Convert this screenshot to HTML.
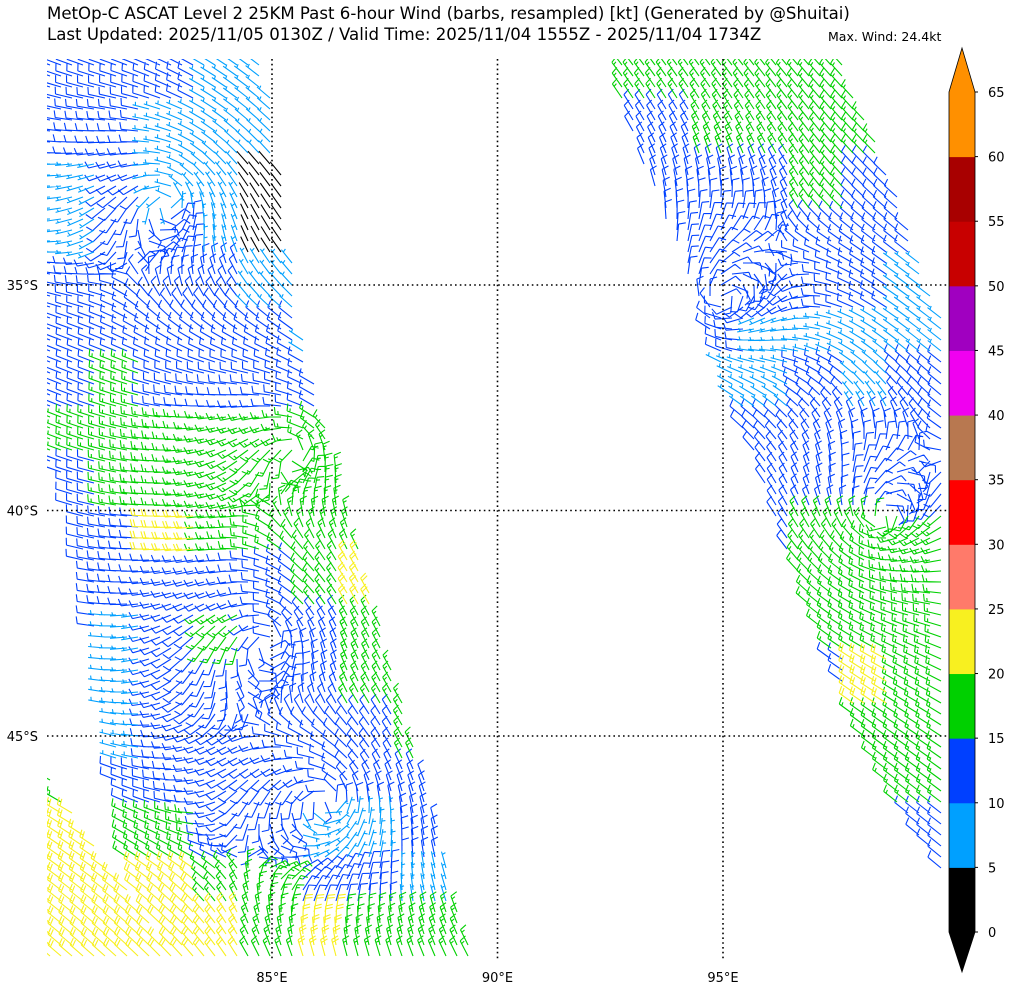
<!DOCTYPE html>
<html><head><meta charset="utf-8">
<style>
body{margin:0;background:#fff;}
svg{display:block;font-family:"DejaVu Sans","Liberation Sans",sans-serif;}
</style></head>
<body>
<svg id="chart" width="1009" height="989" viewBox="0 0 1009 989" xmlns="http://www.w3.org/2000/svg">
<defs><clipPath id="plotclip"><rect x="47" y="59" width="901" height="901"/></clipPath></defs>
<text x="47" y="19" font-size="16.6" fill="#000">MetOp-C ASCAT Level 2 25KM Past 6-hour Wind (barbs, resampled) [kt] (Generated by @Shuitai)</text>
<text x="47" y="40" font-size="16.6" fill="#000">Last Updated: 2025/11/05 0130Z / Valid Time: 2025/11/04 1555Z - 2025/11/04 1734Z</text>
<text x="828" y="41" font-size="12.5" fill="#000">Max. Wind: 24.4kt</text>
<g id="barbs" clip-path="url(#plotclip)"></g>
<g id="grid"></g>
<g id="cbar"></g>
</svg>
<script>
// Coarse wind-speed field (kt), 18 cols (x cells of 50px from 47) x 18 rows (y cells from 59)
const speedRows = [
 [12,12,12,9,9,null,null,null,null,null,null,17,17,17,17,17,17,null],
 [12,12,9,9,9,9,null,null,null,null,null,12,12,17,17,17,17,null],
 [8,12,9,9,3,9,null,null,null,null,null,12,12,12,12,17,12,null],
 [8,12,12,9,3,9,null,null,null,null,null,12,12,12,12,12,12,12],
 [12,12,12,12,9,9,null,null,null,null,null,null,null,12,12,12,12,9],
 [12,12,12,12,12,9,null,null,null,null,null,null,null,12,9,9,9,9],
 [12,17,12,12,12,12,12,null,null,null,null,null,null,9,9,12,9,12],
 [17,17,17,17,17,17,17,null,null,null,null,null,null,12,12,12,12,12],
 [12,17,17,17,17,17,17,17,null,null,null,null,null,12,12,12,12,12],
 [12,12,22,17,17,17,17,17,null,null,null,null,null,null,12,17,17,17],
 [12,12,12,12,12,17,22,22,null,null,null,null,null,null,null,17,17,17],
 [12,9,12,17,12,12,17,17,null,null,null,null,null,null,null,17,17,17],
 [12,9,12,12,12,12,17,17,null,null,null,null,null,null,null,null,22,17],
 [12,9,12,12,12,12,12,17,null,null,null,null,null,null,null,null,17,17],
 [17,12,12,12,12,12,12,12,12,null,null,null,null,null,null,null,17,17],
 [22,17,17,12,12,9,9,12,12,null,null,null,null,null,null,null,null,12],
 [22,22,22,17,17,12,12,9,12,null,null,null,null,null,null,null,null,12],
 [22,22,22,22,17,22,17,17,17,null,null,null,null,null,null,null,null,12]
];
// Circulation centres: x, y (px), sense (+1 clockwise)
const vortexX = [170, 270, 330, 720, 880, 300];
const vortexY = [200, 640, 800, 300, 520, 450];
const vortexSense = [1, 1, 1, -1, -1, 1];
// Colorbar levels / colors
const cbLevels = [0,5,10,15,20,25,30,35,40,45,50,55,60,65];
const cbColors = ["#000000","#00a0ff","#0040ff","#00d000","#f8f020","#ff7a6a","#ff0000","#b87850","#f000f0","#a000c0","#c80000","#a80000","#ff9000"];
const lonTicks = [85,90,95];
const latTicks = [35,40,45];

const NS="http://www.w3.org/2000/svg";
const X0=47,X1=948,Y0=59,Y1=960;
const lonToX = lon => 272 + (lon-85)*45.1;
const latToY = lat => 285 + (lat-35)*45.1;
const masks = [
 [[47,59],[265,59],[282,180],[300,320],[340,480],[390,660],[430,800],[462,920],[475,960],[178,960],[135,890],[125,850],[110,740],[90,600],[65,480],[47,460]],
 [[47,770],[97,846],[175,960],[47,960]],
 [[612,59],[840,59],[892,180],[946,330],[946,880],[870,760],[775,520],[705,320],[625,120]]
];
function inside(p,poly){let c=false;for(let i=0,j=poly.length-1;i<poly.length;j=i++){const [xi,yi]=poly[i],[xj,yj]=poly[j];if(((yi>p[1])!=(yj>p[1]))&&(p[0]<(xj-xi)*(p[1]-yi)/(yj-yi)+xi))c=!c;}return c;}
function colorFor(s){let i=Math.floor(s/5);return cbColors[Math.min(i,cbColors.length-1)];}
const paths={};
for(let y=Y0+6;y<Y1+10;y+=11){for(let x=X0+3;x<X1;x+=11){
  if(!masks.some(m=>inside([x,y],m)))continue;
  const r=Math.min(17,Math.floor((y-Y0)/50)),c=Math.min(17,Math.floor((x-X0)/50));
  let s=speedRows[r][c]; if(s==null) s=12;
  let vx=-0.35,vy=-0.3;
  for(let k=0;k<vortexX.length;k++){const dx=x-vortexX[k],dy=y-vortexY[k];const d=Math.hypot(dx,dy)+1;const w=6000/(d*d+6000);
    vx+=w*(-dy/d)*vortexSense[k]*-1; vy+=w*(dx/d)*vortexSense[k]*-1;}
  const a=Math.atan2(vy,vx);
  const L=17,ux=Math.cos(a),uy=Math.sin(a),px=-uy,py=ux;
  const ex=x+ux*L,ey=y+uy*L;
  let d=`M${x.toFixed(1)} ${y.toFixed(1)}L${ex.toFixed(1)} ${ey.toFixed(1)}`;
  let full=Math.floor(s/10),half=(s%10)>=5?1:0,pos=0;
  for(let f=0;f<full;f++){const bx=ex-ux*pos,by=ey-uy*pos;d+=`M${bx.toFixed(1)} ${by.toFixed(1)}l${(px*7+ux*2).toFixed(1)} ${(py*7+uy*2).toFixed(1)}`;pos+=3;}
  if(half){if(full==0)pos=3;const bx=ex-ux*pos,by=ey-uy*pos;d+=`M${bx.toFixed(1)} ${by.toFixed(1)}l${(px*3.5+ux*1).toFixed(1)} ${(py*3.5+uy*1).toFixed(1)}`;}
  const col=colorFor(s);(paths[col]=paths[col]||[]).push(d);
}}
const barbGroup=document.getElementById('barbs');
for(const col in paths){const p=document.createElementNS(NS,'path');


p.setAttribute('d',paths[col].join(''));p.setAttribute('stroke',col);p.setAttribute('stroke-width','1.1');p.setAttribute('fill','none');barbGroup.appendChild(p);}
const gridGroup=document.getElementById('grid');
function mk(tag,attrs,parent,text){const e=document.createElementNS(NS,tag);for(const k in attrs)e.setAttribute(k,attrs[k]);if(text!=null)e.textContent=text;parent.appendChild(e);return e;}
lonTicks.forEach(lon=>{const x=lonToX(lon);
 const l=mk('line',{x1:x,y1:Y0,x2:x,y2:Y1,stroke:'#000','stroke-width':1.6,'stroke-dasharray':'1.6 3.2'},gridGroup);
 
 
 const t=mk('text',{x:x,y:982,'font-size':13,'text-anchor':'middle'},gridGroup,lon+'°E');
 
 });
latTicks.forEach(lat=>{const y=latToY(lat);
 const l=mk('line',{x1:X0,y1:y,x2:X1,y2:y,stroke:'#000','stroke-width':1.6,'stroke-dasharray':'1.6 3.2'},gridGroup);
 
 
 const t=mk('text',{x:38,y:y+5,'font-size':13,'text-anchor':'end'},gridGroup,lat+'°S');
 
 });
const cbGroup=document.getElementById('cbar');
const cbX=949,cbW=26,cbTop=92,cbBot=932,cbStep=(cbBot-cbTop)/13;
const lvToY=v=>cbBot-(v/65)*(cbBot-cbTop);
for(let i=0;i<13;i++){const r=mk('rect',{x:cbX,y:lvToY(cbLevels[i+1]),width:cbW,height:cbStep+0.5,fill:cbColors[i]},cbGroup);
 
 }
const extTop=mk('path',{d:`M${cbX} ${cbTop+0.5}L${cbX+cbW/2} 48L${cbX+cbW} ${cbTop+0.5}Z`,fill:cbColors[12]},cbGroup);


const extBot=mk('path',{d:`M${cbX} ${cbBot-0.5}L${cbX+cbW/2} 972L${cbX+cbW} ${cbBot-0.5}Z`,fill:'#000'},cbGroup);


const cbFrame=mk('path',{d:`M${cbX} ${cbTop}L${cbX+cbW/2} 48L${cbX+cbW} ${cbTop}L${cbX+cbW} ${cbBot}L${cbX+cbW/2} 972L${cbX} ${cbBot}Z`,fill:'none',stroke:'#000','stroke-width':0.8},cbGroup);


cbLevels.forEach(v=>{const y=lvToY(v);
 mk('line',{x1:cbX+cbW,y1:y,x2:cbX+cbW+3,y2:y,stroke:'#000'},cbGroup);
 const t=mk('text',{x:988,y:y+5,'font-size':13},cbGroup,String(v));
 
 });
</script>
</body></html>
